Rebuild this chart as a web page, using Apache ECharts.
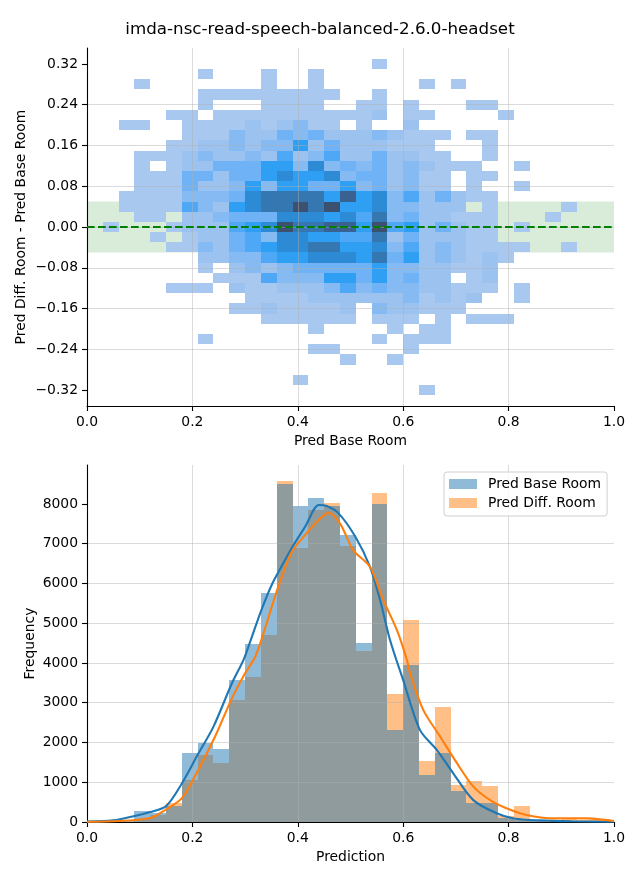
<!DOCTYPE html>
<html>
<head>
<meta charset="utf-8">
<script src="https://cdn.jsdelivr.net/npm/echarts@6/dist/echarts.min.js"></script>
<style>html,body{margin:0;padding:0;background:#fff}#chart{width:640px;height:880px}</style>
</head>
<body>
<div id="chart"></div>
<script>
// ---------------- data ----------------
const chartTitle = 'imda-nsc-read-speech-balanced-2.6.0-headset';
// left edges of the 0.03-wide prediction bins (shared by both panels)
const binStarts = [0.00,0.03,0.06,0.09,0.12,0.15,0.18,0.21,0.24,0.27,0.30,0.33,0.36,0.39,0.42,0.45,0.48,0.51,0.54,0.57,0.60,0.63,0.66,0.69,0.72,0.75,0.78,0.81,0.84,0.87,0.90,0.93,0.96];
const binWidth = 0.03;
// centres of the 0.02-tall difference bins (top to bottom)
const diffRowCenters = [0.32,0.30,0.28,0.26,0.24,0.22,0.20,0.18,0.16,0.14,0.12,0.10,0.08,0.06,0.04,0.02,0.00,-0.02,-0.04,-0.06,-0.08,-0.10,-0.12,-0.14,-0.16,-0.18,-0.20,-0.22,-0.24,-0.26,-0.28,-0.30,-0.32];
const diffRowHeight = 0.02;
// relative cell counts of the 2-D histogram (one row per diffRowCenters entry, one column per binStarts entry)
const heatCounts = [
  [0,0,0,0,0, 0,0,0,0,0, 0,0,0,0,0, 0,0,0,1,0, 0,0,0,0,0, 0,0,0,0,0, 0,0,0],
  [0,0,0,0,0, 0,0,1,0,0, 0,1,0,0,1, 0,0,0,0,0, 0,0,0,0,0, 0,0,0,0,0, 0,0,0],
  [0,0,0,1,0, 0,0,0,0,0, 0,1,0,0,1, 0,0,0,0,0, 0,1,0,1,0, 0,0,0,0,0, 0,0,0],
  [0,0,0,0,0, 0,0,1,1,1, 1,1,1,1,1, 1,0,0,1,0, 0,0,0,0,0, 0,0,0,0,0, 0,0,0],
  [0,0,0,0,0, 0,0,1,0,0, 0,1,1,1,1, 0,0,1,1,0, 1,0,0,0,1, 1,0,0,0,0, 0,0,0],
  [0,0,0,0,0, 1,1,0,1,1, 1,1,1,1,1, 1,1,1,2,0, 1,1,0,0,0, 0,1,0,0,0, 0,0,0],
  [0,0,1,1,0, 0,1,1,1,1, 2,1,2,3,1, 1,0,1,0,0, 2,0,0,0,0, 0,0,0,0,0, 0,0,0],
  [0,0,0,0,0, 0,1,1,1,3, 2,2,4,3,4, 2,2,2,3,2, 1,1,1,0,1, 1,0,0,0,0, 0,0,0],
  [0,0,0,0,0, 1,1,2,2,3, 2,3,3,6,2, 4,2,2,2,1, 1,1,0,0,0, 1,0,0,0,0, 0,0,0],
  [0,0,0,1,1, 1,2,3,2,2, 3,2,5,2,3, 5,2,2,4,2, 2,1,1,0,0, 1,0,0,0,0, 0,0,0],
  [0,0,0,1,0, 1,2,2,4,4, 4,6,6,3,7, 3,4,3,4,2, 3,2,1,1,1, 0,0,1,0,0, 0,0,0],
  [0,0,0,1,1, 1,4,4,2,4, 4,6,7,6,6, 7,3,4,4,2, 3,1,1,0,1, 1,0,0,0,0, 0,0,0],
  [0,0,0,1,1, 1,4,2,2,3, 6,3,6,6,4, 4,6,3,4,2, 3,1,1,0,1, 0,0,1,0,0, 0,0,0],
  [0,0,1,1,1, 1,3,3,3,4, 7,8,8,8,8, 6,9,6,7,3, 5,2,4,2,1, 1,0,0,0,0, 0,0,0],
  [0,0,1,1,1, 1,5,3,2,6, 7,8,8,10,8, 10,6,6,7,3, 3,2,2,2,0, 1,0,0,0,0, 1,0,0],
  [0,0,0,1,1, 0,2,2,3,4, 4,4,7,7,7, 6,7,5,8,3, 4,2,2,1,1, 1,0,0,0,1, 0,0,0],
  [0,1,0,0,0, 1,2,2,2,5, 6,7,10,8,8, 9,9,6,10,5, 6,2,4,2,1, 1,0,1,0,0, 0,0,0],
  [0,0,0,0,1, 0,1,2,2,4, 5,3,7,7,6, 6,5,5,8,2, 4,2,2,2,1, 1,0,0,0,0, 0,0,0],
  [0,0,0,0,0, 1,1,3,2,4, 5,6,7,7,8, 8,6,6,7,3, 5,2,3,2,1, 1,1,1,0,0, 1,0,0],
  [0,0,0,0,0, 0,0,2,2,3, 3,5,6,6,7, 7,7,6,8,4, 6,2,3,2,1, 2,1,0,0,0, 0,0,0],
  [0,0,0,0,0, 0,0,1,0,2, 3,2,3,4,4, 4,4,4,6,3, 3,2,2,1,1, 2,0,0,0,0, 0,0,0],
  [0,0,0,0,0, 0,0,0,1,1, 1,5,3,3,3, 6,6,4,6,3, 4,2,2,0,1, 2,0,0,0,0, 0,0,0],
  [0,0,0,0,0, 1,1,1,0,2, 1,1,2,2,2, 3,5,3,4,3, 3,2,2,1,1, 1,0,1,0,0, 0,0,0],
  [0,0,0,0,0, 0,0,0,0,0, 1,1,1,1,2, 2,2,2,2,2, 3,1,2,1,2, 0,0,1,0,0, 0,0,0],
  [0,0,0,0,0, 0,0,0,0,1, 1,2,1,1,1, 1,2,0,3,2, 2,1,1,1,0, 0,0,0,0,0, 0,0,0],
  [0,0,0,0,0, 0,0,0,0,0, 0,1,1,1,1, 1,1,0,1,1, 1,0,1,0,1, 1,1,0,0,0, 0,0,0],
  [0,0,0,0,0, 0,0,0,0,0, 0,0,0,0,1, 0,0,0,0,1, 0,1,1,0,0, 0,0,0,0,0, 0,0,0],
  [0,0,0,0,0, 0,0,1,0,0, 0,0,0,0,0, 0,0,0,1,0, 1,1,1,0,0, 0,0,0,0,0, 0,0,0],
  [0,0,0,0,0, 0,0,0,0,0, 0,0,0,0,1, 1,0,0,0,0, 1,0,0,0,0, 0,0,0,0,0, 0,0,0],
  [0,0,0,0,0, 0,0,0,0,0, 0,0,0,0,0, 0,1,0,0,1, 0,0,0,0,0, 0,0,0,0,0, 0,0,0],
  [0,0,0,0,0, 0,0,0,0,0, 0,0,0,0,0, 0,0,0,0,0, 0,0,0,0,0, 0,0,0,0,0, 0,0,0],
  [0,0,0,0,0, 0,0,0,0,0, 0,0,0,1,0, 0,0,0,0,0, 0,0,0,0,0, 0,0,0,0,0, 0,0,0],
  [0,0,0,0,0, 0,0,0,0,0, 0,0,0,0,0, 0,0,0,0,0, 0,1,0,0,0, 0,0,0,0,0, 0,0,0]
];
const toleranceBand = [-0.05, 0.05];
const zeroLine = [[0, 0], [1, 0]];
// 1-D histogram frequencies per bin
const histBase = [0,0,20,270,220,410,1740,1990,1840,3570,4490,5770,8500,7950,8150,7950,7220,4500,8010,2310,3950,1180,1740,780,470,470,90,50,15,10,5,5,0];
const histDiff = [0,0,10,80,170,470,1060,1690,1480,3070,3650,4700,8580,6890,7850,8020,6930,4300,8280,3220,5080,1530,2890,930,1030,900,150,400,60,60,70,60,40];
// KDE curves (x, scaled density)
const kdeBase = [[0.00,10],[0.05,40],[0.09,150],[0.12,250],[0.15,400],[0.18,970],[0.21,1690],[0.24,2400],[0.275,3490],[0.297,4080],[0.31,4550],[0.33,5300],[0.35,5950],[0.37,6450],[0.388,6880],[0.414,7430],[0.44,7975],[0.455,7950],[0.477,7770],[0.509,7180],[0.537,6420],[0.556,5590],[0.575,4580],[0.60,3570],[0.632,2310],[0.664,1810],[0.695,1225],[0.733,550],[0.777,220],[0.81,90],[0.86,40],[0.92,17],[1.0,5]];
const kdeDiff = [[0.00,5],[0.06,25],[0.12,100],[0.148,300],[0.18,600],[0.211,1310],[0.243,2150],[0.275,3110],[0.30,3740],[0.319,4150],[0.335,4750],[0.36,5800],[0.388,6780],[0.414,7220],[0.44,7600],[0.458,7780],[0.48,7510],[0.505,6840],[0.537,6420],[0.562,5590],[0.588,4830],[0.607,4075],[0.613,3740],[0.638,2820],[0.67,2150],[0.702,1480],[0.733,890],[0.765,550],[0.796,345],[0.834,175],[0.885,90],[0.92,95],[0.95,90],[0.973,65],[1.0,25]];
const seriesNames = ['Pred Base Room', 'Pred Diff. Room'];
const xTicks = [0, 0.2, 0.4, 0.6, 0.8, 1.0];
const diffTicks = [-0.32, -0.24, -0.16, -0.08, 0, 0.08, 0.16, 0.24, 0.32];
const freqTicks = [0, 1000, 2000, 3000, 4000, 5000, 6000, 7000, 8000];

// ---------------- build ----------------
const heatData = [];
heatCounts.forEach((row, r) => row.forEach((c, k) => {
  if (c > 0) heatData.push([binStarts[k], diffRowCenters[r], c]);
}));
const baseBars = histBase.map((v, k) => [binStarts[k], v]);
const diffBars = histDiff.map((v, k) => [binStarts[k], v]);

const FONT = 'DejaVu Sans';
const gridColor = 'rgba(176,176,176,0.45)';
const fmtMinus = s => s.replace('-', '\u2212');

function commonAxis(extra) {
  return Object.assign({
    z: 3,
    axisLine: { show: true, onZero: false, lineStyle: { color: '#000', width: 1.1 } },
    axisTick: { show: true, length: 5, lineStyle: { color: '#000', width: 1.1 } },
    splitLine: { show: true, showMinLine: false, showMaxLine: false, lineStyle: { color: gridColor, width: 1 } },
    nameLocation: 'middle',
    nameMoveOverlap: false,
    nameTextStyle: { color: '#000', fontFamily: FONT, fontSize: 13.9 }
  }, extra);
}
function labelStyle(extra) {
  return Object.assign({ color: '#000', fontFamily: FONT, fontSize: 13.9, margin: 9 }, extra);
}

function rectFor(api, x0, y0, x1, y1, fill) {
  const a = api.coord([x0, y1]);
  const b = api.coord([x1, y0]);
  const L = Math.round(a[0]), R = Math.round(b[0]);
  const T = Math.round(a[1]), B = Math.round(b[1]);
  return { type: 'rect', shape: { x: L, y: T, width: R - L, height: B - T }, style: { fill: fill } };
}

const option = {
  animation: false,
  backgroundColor: '#fff',
  title: {
    text: chartTitle, left: 'center', top: 16,
    textStyle: { fontFamily: FONT, fontSize: 16.7, fontWeight: 'normal', color: '#000' }
  },
  legend: {
    orient: 'vertical', left: 444, top: 472, z: 10,
    selectedMode: false,
    data: seriesNames.map(n => ({ name: n, icon: 'rect' })),
    itemWidth: 28, itemHeight: 10, itemGap: 5,
    padding: [5, 6, 6, 5],
    backgroundColor: 'rgba(255,255,255,0.8)',
    borderColor: '#d0d0d0', borderWidth: 1, borderRadius: 3,
    textStyle: { fontFamily: FONT, fontSize: 13.9, color: '#000', padding: [0, 0, 0, 6] }
  },
  grid: [
    { left: 87, top: 48, width: 527, height: 358 },
    { left: 87, top: 465, width: 527, height: 357 }
  ],
  visualMap: {
    show: false, type: 'continuous', seriesIndex: 1, dimension: 2, min: 1, max: 10,
    inRange: { color: ['#a8c8ef', '#9cc2f0', '#86baf2', '#6fb2f6', '#4ea8f6', '#2f9ff4', '#2d8bd6', '#3577b1', '#3a6290', '#3c5070'] }
  },
  xAxis: [
    commonAxis({ gridIndex: 0, type: 'value', min: 0, max: 1, interval: 0.2,
      name: 'Pred Base Room', nameGap: 28,
      axisLabel: labelStyle({ formatter: v => v.toFixed(1) }) }),
    commonAxis({ gridIndex: 1, type: 'value', min: 0, max: 1, interval: 0.2,
      name: 'Prediction', nameGap: 28,
      axisLabel: labelStyle({ formatter: v => v.toFixed(1) }) })
  ],
  yAxis: [
    commonAxis({ gridIndex: 0, type: 'value', min: -0.3514, max: 0.3514, minInterval: 0.08, maxInterval: 0.08,
      name: 'Pred Diff. Room - Pred Base Room', nameGap: 59, nameRotate: 90,
      axisTick: { show: true, length: 5, customValues: diffTicks, lineStyle: { color: '#000', width: 1.1 } },
      axisLabel: labelStyle({ customValues: diffTicks, formatter: v => fmtMinus(v.toFixed(2)) }) }),
    commonAxis({ gridIndex: 1, type: 'value', min: 0, max: 8980, interval: 1000,
      name: 'Frequency', nameGap: 50, nameRotate: 90,
      axisTick: { show: true, length: 5, customValues: freqTicks, lineStyle: { color: '#000', width: 1.1 } },
      axisLabel: labelStyle({ customValues: freqTicks, formatter: v => String(Math.round(v)) }) })
  ],
  series: [
    { // tolerance band
      type: 'custom', xAxisIndex: 0, yAxisIndex: 0, z: 1, silent: true,
      data: [toleranceBand],
      renderItem: (params, api) => {
        const cs = params.coordSys;
        const t = api.coord([0, api.value(1)]);
        const b = api.coord([0, api.value(0)]);
        return { type: 'rect', shape: { x: cs.x, y: t[1], width: cs.width, height: b[1] - t[1] },
          style: { fill: 'rgba(0,128,0,0.15)' } };
      }
    },
    { // 2-D histogram
      type: 'custom', xAxisIndex: 0, yAxisIndex: 0, z: 2, silent: true,
      data: heatData,
      renderItem: (params, api) => {
        const x = api.value(0), y = api.value(1);
        return rectFor(api, x, y - diffRowHeight / 2, x + binWidth, y + diffRowHeight / 2, api.visual('color'));
      }
    },
    { // zero line
      type: 'line', xAxisIndex: 0, yAxisIndex: 0, z: 5, silent: true,
      data: zeroLine, showSymbol: false, symbol: 'none',
      lineStyle: { color: '#008000', width: 2.1, type: [7.7, 3.3] }
    },
    {
      name: seriesNames[1], type: 'custom', xAxisIndex: 1, yAxisIndex: 1, z: 2, silent: true,
      itemStyle: { color: 'rgba(255,127,14,0.5)' },
      data: diffBars,
      renderItem: (params, api) => {
        const x = api.value(0), h = api.value(1);
        return rectFor(api, x, 0, x + binWidth, h, 'rgba(255,127,14,0.5)');
      }
    },
    {
      name: seriesNames[0], type: 'custom', xAxisIndex: 1, yAxisIndex: 1, z: 2, silent: true,
      itemStyle: { color: 'rgba(31,119,180,0.5)' },
      data: baseBars,
      renderItem: (params, api) => {
        const x = api.value(0), h = api.value(1);
        return rectFor(api, x, 0, x + binWidth, h, 'rgba(31,119,180,0.5)');
      }
    },
    {
      name: 'kde-base', type: 'line', xAxisIndex: 1, yAxisIndex: 1, z: 4, silent: true,
      data: kdeBase, showSymbol: false, symbol: 'none', smooth: 0.3,
      lineStyle: { color: '#1f77b4', width: 2.1 }
    },
    {
      name: 'kde-diff', type: 'line', xAxisIndex: 1, yAxisIndex: 1, z: 4, silent: true,
      data: kdeDiff, showSymbol: false, symbol: 'none', smooth: 0.3,
      lineStyle: { color: '#ff7f0e', width: 2.1 }
    }
  ]
};

const chart = echarts.init(document.getElementById('chart'), null, { renderer: 'canvas' });
chart.setOption(option);
</script>
</body>
</html>
